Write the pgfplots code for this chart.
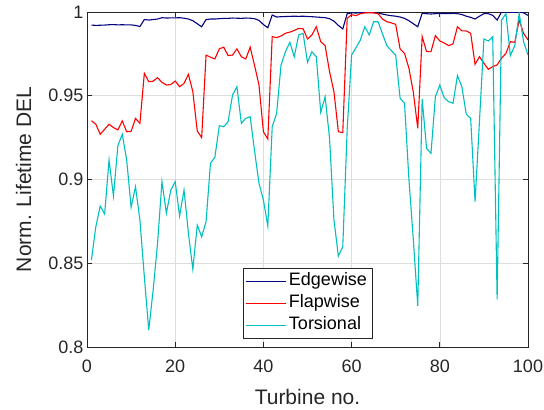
\documentclass[border=0pt]{standalone}
\usepackage{fontspec}
\setmainfont{Liberation Sans}
\usepackage{pgfplots}
\usepackage{pgfplotstable}
\pgfplotsset{compat=1.18}
\definecolor{edge}{rgb}{0,0,0.5}
\definecolor{flap}{rgb}{1,0,0}
\definecolor{tors}{rgb}{0,0.75,0.75}
\definecolor{axgray}{rgb}{0.15,0.15,0.15}
\pgfplotstableread{
x e f t
1 0.9922 0.9351 0.8519
2 0.9920 0.9330 0.8718
3 0.9921 0.9270 0.8842
4 0.9922 0.9300 0.8794
5 0.9924 0.9330 0.9116
6 0.9925 0.9310 0.8901
7 0.9923 0.9296 0.9202
8 0.9924 0.9350 0.9270
9 0.9923 0.9285 0.9116
10 0.9923 0.9287 0.8834
11 0.9920 0.9365 0.8957
12 0.9913 0.9335 0.8758
13 0.9955 0.9634 0.8420
14 0.9952 0.9584 0.8101
15 0.9955 0.9587 0.8340
16 0.9958 0.9608 0.8619
17 0.9966 0.9580 0.8987
18 0.9964 0.9564 0.8798
19 0.9965 0.9567 0.8937
20 0.9965 0.9588 0.8987
21 0.9966 0.9554 0.8782
22 0.9963 0.9574 0.8937
23 0.9958 0.9628 0.8679
24 0.9948 0.9524 0.8464
25 0.9930 0.9290 0.8728
26 0.9912 0.9250 0.8658
27 0.9955 0.9743 0.8748
28 0.9958 0.9730 0.9097
29 0.9958 0.9720 0.9133
30 0.9960 0.9780 0.9321
31 0.9962 0.9790 0.9315
32 0.9962 0.9740 0.9345
33 0.9964 0.9743 0.9504
34 0.9963 0.9780 0.9554
35 0.9962 0.9733 0.9335
36 0.9964 0.9720 0.9365
37 0.9963 0.9790 0.9375
38 0.9960 0.9680 0.9170
39 0.9950 0.9564 0.8977
40 0.9925 0.9285 0.8878
41 0.9906 0.9242 0.8722
42 0.9982 0.9853 0.9315
43 0.9970 0.9847 0.9395
44 0.9972 0.9857 0.9684
45 0.9973 0.9873 0.9763
46 0.9974 0.9880 0.9819
47 0.9975 0.9890 0.9733
48 0.9974 0.9902 0.9863
49 0.9975 0.9900 0.9873
50 0.9973 0.9839 0.9700
51 0.9972 0.9863 0.9763
52 0.9970 0.9912 0.9733
53 0.9968 0.9823 0.9401
54 0.9966 0.9799 0.9494
55 0.9960 0.9644 0.9246
56 0.9945 0.9524 0.8758
57 0.9920 0.9285 0.8543
58 0.9899 0.9280 0.8599
59 0.9990 0.9962 0.9300
60 0.9995 0.9984 0.9743
61 0.9994 0.9978 0.9787
62 0.9996 0.9990 0.9833
63 0.9997 0.9995 0.9912
64 0.9997 0.9996 0.9863
65 0.9996 0.9995 0.9942
66 0.9994 0.9990 0.9942
67 0.9988 0.9958 0.9870
68 0.9982 0.9942 0.9799
69 0.9978 0.9935 0.9770
70 0.9975 0.9926 0.9743
71 0.9970 0.9779 0.9485
72 0.9962 0.9753 0.9455
73 0.9948 0.9664 0.9000
74 0.9930 0.9520 0.8640
75 0.9912 0.9306 0.8245
76 0.9992 0.9853 0.9481
77 0.9990 0.9763 0.9186
78 0.9988 0.9763 0.9156
79 0.9990 0.9859 0.9494
80 0.9992 0.9827 0.9564
81 0.9990 0.9815 0.9488
82 0.9990 0.9799 0.9465
83 0.9992 0.9810 0.9455
84 0.9990 0.9912 0.9620
85 0.9985 0.9887 0.9554
86 0.9975 0.9887 0.9390
87 0.9968 0.9873 0.9365
88 0.9958 0.9688 0.8868
89 0.9975 0.9733 0.9350
90 0.9990 0.9694 0.9839
91 0.9990 0.9658 0.9827
92 0.9980 0.9674 0.9853
93 0.9952 0.9684 0.8285
94 1.0000 0.9724 0.9952
95 1.0000 0.9753 0.9990
96 0.9998 0.9823 0.9740
97 0.9998 0.9819 0.9799
98 1.0000 0.9952 0.9992
99 0.9995 0.9873 0.9823
100 0.9980 0.9833 0.9743
}\datatable
\begin{document}
\begin{tikzpicture}
\begin{axis}[
  scale only axis, width=441pt, height=335pt,
  xmin=0, xmax=100, ymin=0.8, ymax=1,
  xtick={0,20,...,100}, ytick={0.8,0.85,0.9,0.95,1},
  grid=major, major grid style={color=black!13, line width=0.6pt},
  axis line style={axgray, line width=0.7pt},
  tick style={axgray, line width=0.7pt},
  tick align=inside, major tick length=5pt,
  ticklabel style={font=\fontsize{18}{20}\selectfont, text=axgray},
  xticklabel style={yshift=-9pt},
  /pgf/number format/assume math mode=true,
  xlabel={Turbine no.}, ylabel={Norm. Lifetime DEL},
  label style={font=\fontsize{21}{24}\selectfont, text=axgray},
  xlabel style={at={(axis description cs:0.5,0)}, anchor=center, yshift=-50pt},
  ylabel style={at={(axis description cs:-0.144,0.5)}, anchor=center},
  legend style={at={(axis description cs:0.5,0.024)}, anchor=south,
    draw=axgray, line width=0.7pt, fill=white,
    font=\fontsize{18}{20}\selectfont, inner xsep=3pt,
    nodes={inner sep=2pt, text height=13pt, text depth=5pt}},
  legend cell align=left,
  legend image code/.code={\draw[#1, line width=1pt] (0pt,0pt) -- (40pt,0pt);},
]
\addplot[edge, line width=1.1pt] table[x=x, y=e] {\datatable};
\addlegendentry{Edgewise}
\addplot[flap, line width=1.1pt] table[x=x, y=f] {\datatable};
\addlegendentry{Flapwise}
\addplot[tors, line width=1.1pt] table[x=x, y=t] {\datatable};
\addlegendentry{Torsional}
\end{axis}
\pgfresetboundingbox
\path[use as bounding box] (-87pt,-63pt) rectangle (457pt,347pt);
\end{tikzpicture}
\end{document}
